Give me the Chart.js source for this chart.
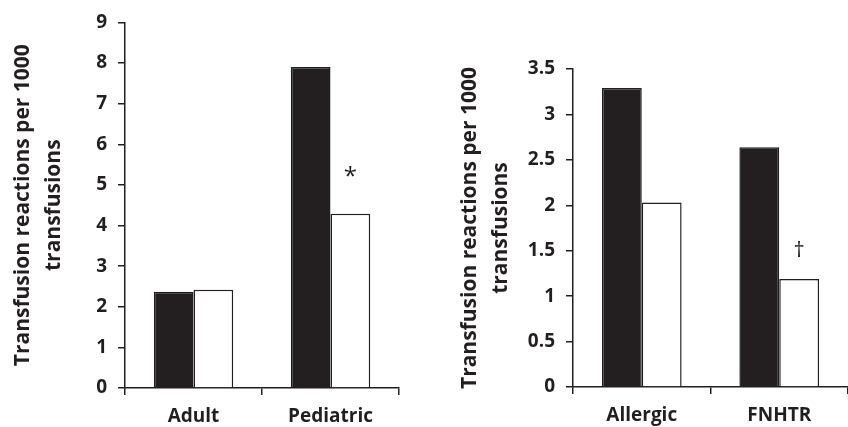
<!DOCTYPE html>
<html>
<head>
<meta charset="utf-8">
<script src="https://cdn.jsdelivr.net/npm/chart.js@4"></script>
<style>
  body { margin: 0; background: #fff; }
  .wrap { position: absolute; top: 0; width: 424px; height: 427px; }
</style>
</head>
<body>
<div class="wrap" style="left:0"><canvas id="leftChart"></canvas></div>
<div class="wrap" style="left:424px"><canvas id="rightChart"></canvas></div>
<script>
// left panel: by patient group
const leftLabels = ['Adult', 'Pediatric'];
const leftBlack = [2.37, 7.9];
const leftWhite = [2.42, 4.29];
const leftMarks = ['', '*'];

// right panel: by reaction type
const rightLabels = ['Allergic', 'FNHTR'];
const rightBlack = [3.29, 2.64];
const rightWhite = [2.03, 1.19];
const rightMarks = ['', '\u2020'];

const yTitle = ['Transfusion reactions per 1000', 'transfusions'];
const ink = '#231f20';
const font = '"Open Sans", sans-serif';

// draws the significance marks above the white bars
const marksPlugin = {
  id: 'marks',
  afterDatasetsDraw(chart, args, opts) {
    const ctx = chart.ctx;
    const meta = chart.getDatasetMeta(1);
    ctx.save();
    ctx.fillStyle = ink;
    ctx.font = opts.size + 'px ' + font;
    ctx.textAlign = 'center';
    ctx.textBaseline = 'alphabetic';
    opts.marks.forEach((m, i) => {
      if (!m) return;
      const bar = meta.data[i];
      ctx.fillText(m, bar.x, bar.y - opts.gap);
    });
    ctx.restore();
  }
};

function makeChart(id, labels, black, white, marks, max, step, pad, yWidth, xHeight, gap, size) {
  return new Chart(document.getElementById(id), {
    type: 'bar',
    data: {
      labels: labels,
      datasets: [
        {
          label: 'Series 1',
          data: black,
          backgroundColor: ink,
          borderColor: ink,
          borderWidth: 1.5,
          categoryPercentage: 0.58,
          barPercentage: 1
        },
        {
          label: 'Series 2',
          data: white,
          backgroundColor: '#ffffff',
          borderColor: ink,
          borderWidth: 1.5,
          categoryPercentage: 0.58,
          barPercentage: 1
        }
      ]
    },
    options: {
      responsive: true,
      maintainAspectRatio: false,
      animation: false,
      layout: { padding: pad },
      plugins: {
        legend: { display: false },
        tooltip: { enabled: false },
        marks: { marks: marks, gap: gap, size: size }
      },
      scales: {
        x: {
          grid: { drawOnChartArea: false, color: ink, lineWidth: 1.5, tickLength: 7 },
          border: { color: ink, width: 1.5 },
          ticks: { color: ink, font: { family: font, size: 19, weight: 'bold' }, padding: 10 },
          afterFit(scale) { scale.height = xHeight; }
        },
        y: {
          min: 0,
          max: max,
          ticks: {
            stepSize: step,
            color: ink,
            font: { family: font, size: 19, weight: 'bold' },
            padding: 11,
            callback: v => String(v)
          },
          grid: { drawOnChartArea: false, color: ink, lineWidth: 1.5, tickLength: 7 },
          border: { color: ink, width: 1.5 },
          title: {
            display: true,
            text: yTitle,
            color: ink,
            font: { family: font, size: 21, weight: 'bold', lineHeight: 1.5 },
            padding: 0
          },
          afterFit(scale) { scale.width = yWidth; }
        }
      }
    },
    plugins: [marksPlugin]
  });
}

makeChart('leftChart', leftLabels, leftBlack, leftWhite, leftMarks, 9, 1,
  { left: 7, right: 25, top: 19, bottom: 0 }, 118, 39, 30, 24);
makeChart('rightChart', rightLabels, rightBlack, rightWhite, rightMarks, 3.5, 0.5,
  { left: 30, right: 0, top: 69, bottom: 0 }, 119, 40, 22, 22);
</script>
</body>
</html>
